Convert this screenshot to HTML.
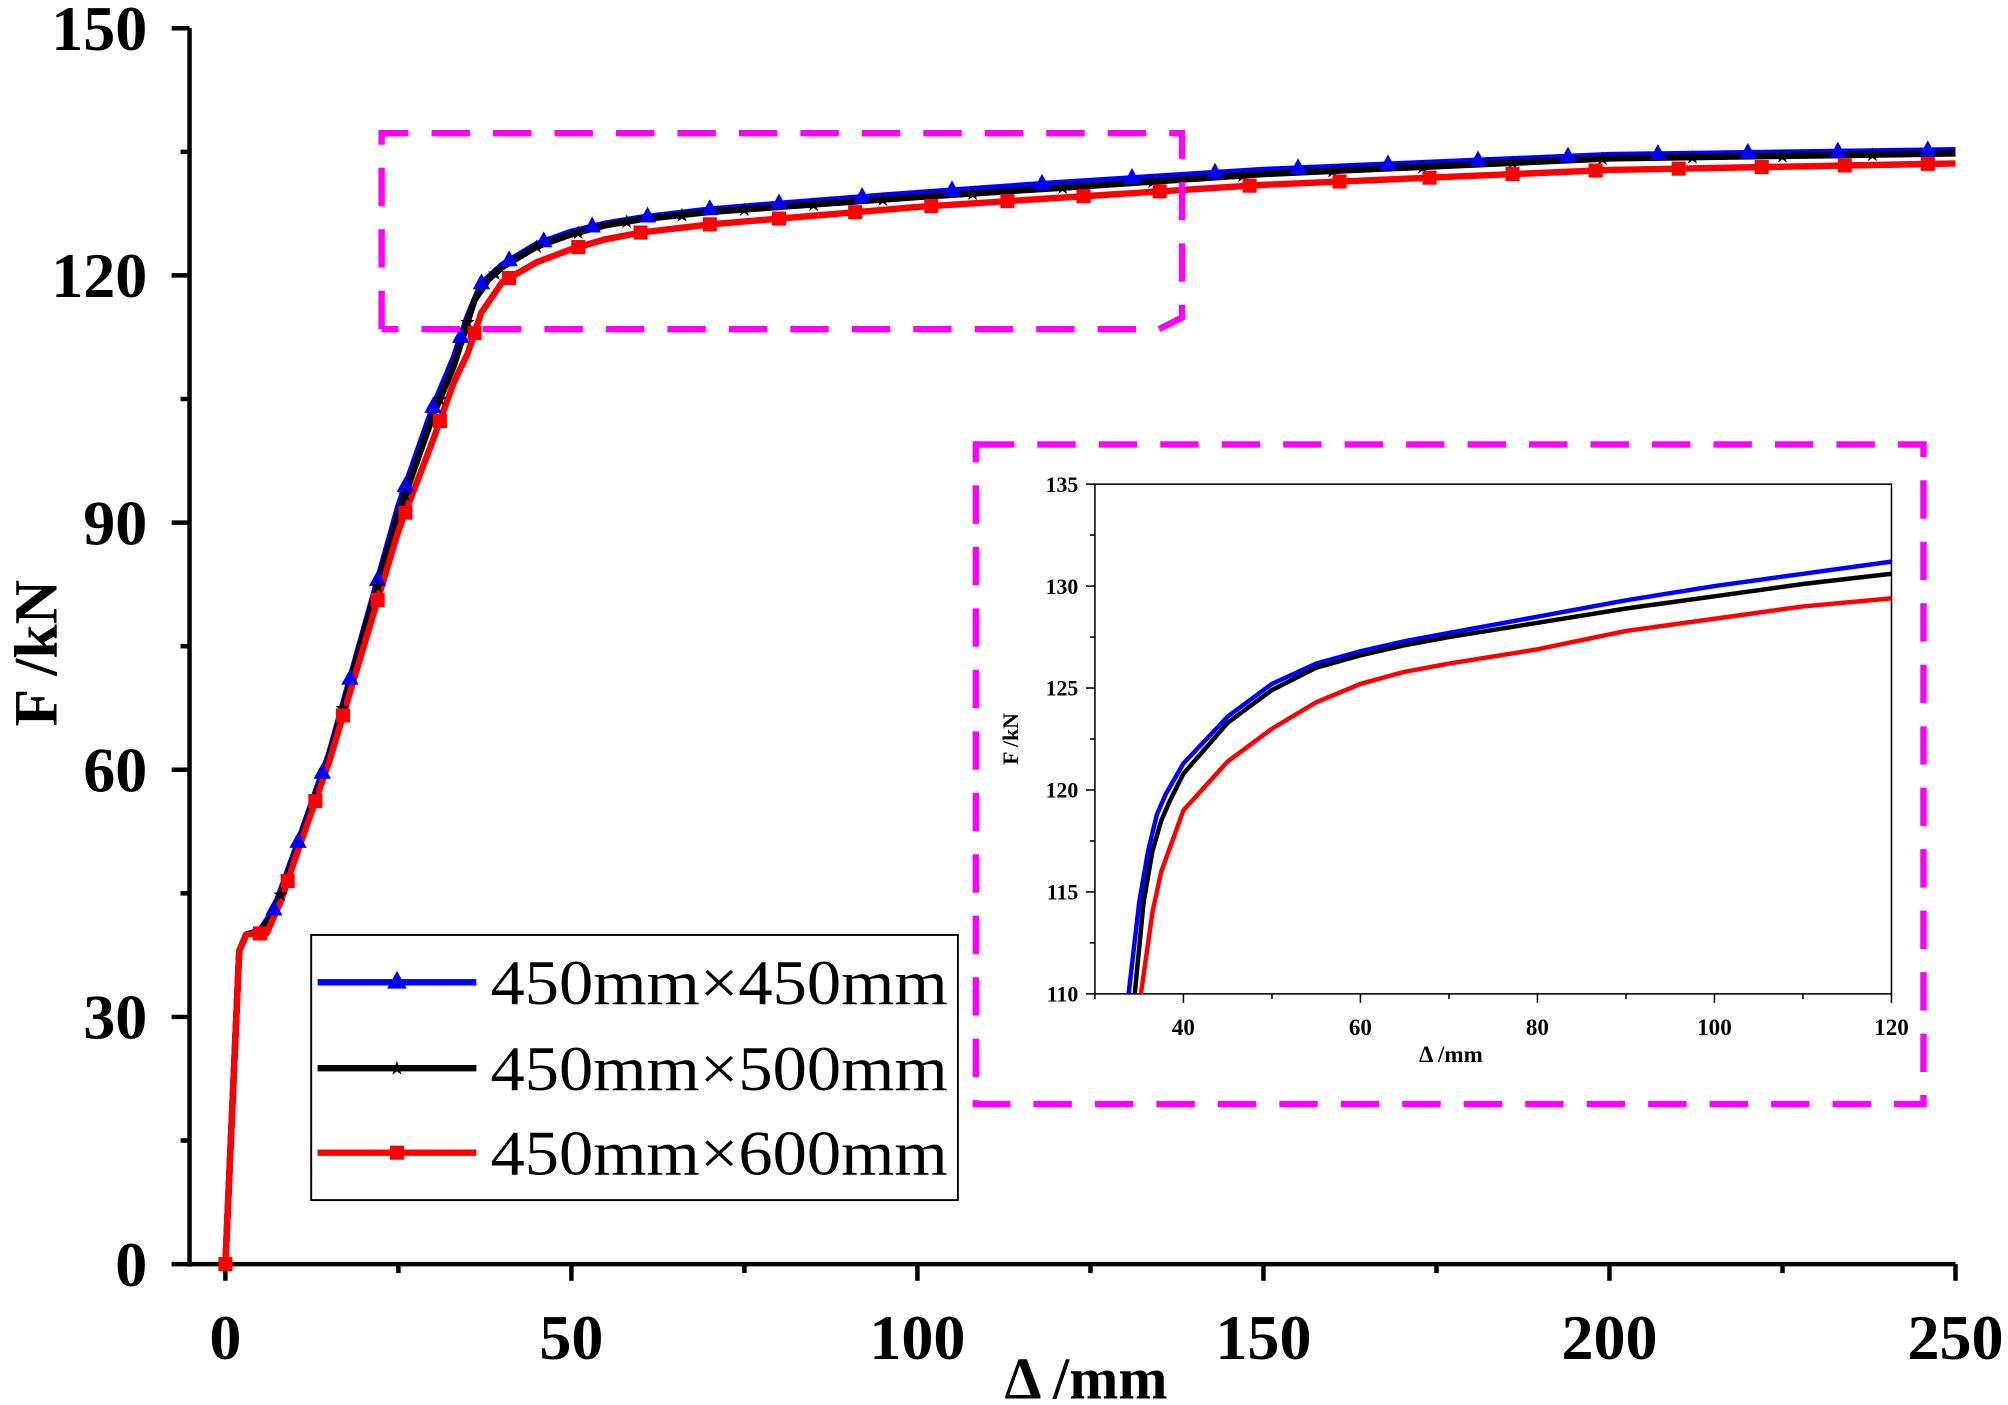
<!DOCTYPE html>
<html><head><meta charset="utf-8">
<style>html,body{margin:0;padding:0;background:#fff;}svg{display:block;}</style>
</head><body>
<svg id="s" width="2008" height="1405" viewBox="0 0 1568 1097" preserveAspectRatio="none" xmlns="http://www.w3.org/2000/svg" font-family="Liberation Serif, serif">
<rect width="1568" height="1097" fill="#fff"/>
<g id="g"></g>
</svg>
<script>
var NS="http://www.w3.org/2000/svg",G=document.getElementById('g');
function el(t,a,txt){var e=document.createElementNS(NS,t);for(var k in a)e.setAttribute(k,a[k]);if(txt!=null)e.textContent=txt;G.appendChild(e);return e;}
var B=[[0,0],[2,38],[3,40],[5,40.5],[7,43],[10,50],[15,62],[20,77],[25,92],[30,104],[33,110],[35,115],[37,119],[40,121.3],[45,123.8],[50,125.3],[55,126.3],[60,127],[70,128],[80,128.7],[100,130],[120,131.2],[150,132.8],[200,134.6],[250,135.2]];
var K=[[0,0],[2,38],[3,40],[5,40.3],[7,42.5],[10,49.5],[15,61.5],[20,76.5],[25,91],[30,103],[33,109],[34.5,113],[36,117],[38,119.5],[40,121],[45,123.5],[50,125],[55,126.1],[60,126.8],[70,127.7],[80,128.3],[100,129.5],[120,130.6],[150,132.3],[200,134.2],[250,134.8]];
var R=[[0,0],[2,38],[3,40],[6,40.2],[8,44],[10,49],[15,61],[20,75],[25,89],[30,100],[33,107],[35,110.5],[37,115.5],[40,119.2],[45,121.6],[50,123.2],[55,124.4],[60,125.2],[70,126.2],[80,126.9],[100,128.3],[120,129.4],[150,131],[200,132.8],[250,133.6]];
function interp(d,x){for(var i=1;i<d.length;i++){if(x<=d[i][0]){var a=d[i-1],b=d[i];return a[1]+(b[1]-a[1])*(x-a[0])/(b[0]-a[0]);}}return d[d.length-1][1];}
function X(v){return 176+v*5.404;} function Y(f){return 987-f*6.433;}
function path(d,fx,fy,x0,x1){var s="";d.forEach(function(p,i){if(p[0]<x0||p[0]>x1)return;s+=(s?"L":"M")+fx(p[0]).toFixed(1)+","+fy(p[1]).toFixed(1);});return s;}
el('line',{x1:148,y1:22,x2:148,y2:989,stroke:'#000','stroke-width':3.5});
el('line',{x1:146,y1:987,x2:1527,y2:987,stroke:'#000','stroke-width':3.5});
for(var f=0;f<=150;f+=15){var y=Y(f),maj=f%30==0;el('line',{x1:maj?134:141,y1:y,x2:148,y2:y,stroke:'#000','stroke-width':3.5});
 if(maj)el('text',{x:115,y:y+17,'text-anchor':'end','font-size':50,'font-weight':'bold'},String(f));}
for(var v=0;v<=250;v+=25){var x=X(v),maj=v%50==0;el('line',{x1:x,y1:987,x2:x,y2:maj?1000:994,stroke:'#000','stroke-width':3.5});
 if(maj)el('text',{x:x,y:1061,'text-anchor':'middle','font-size':50,'font-weight':'bold'},String(v));}
el('text',{x:848,y:1092,'text-anchor':'middle','font-size':46,'font-weight':'bold'},'Δ /mm');
el('text',{x:0,y:0,'text-anchor':'middle','font-size':48,'font-weight':'bold',transform:'translate(44,510) rotate(-90)'},'F /kN');
var ser=[[B,'#0000ff'],[K,'#000'],[R,'#ff0000']];
ser.forEach(function(s){el('path',{d:path(s[0],X,Y,0,250),fill:'none',stroke:s[1],'stroke-width':5,'stroke-linejoin':'round'});});
function marker(t,x,y,c,sz){if(t=='tri')el('path',{d:'M'+x+','+(y-sz)+'L'+(x+sz*0.85)+','+(y+sz*0.55)+'L'+(x-sz*0.85)+','+(y+sz*0.55)+'Z',fill:c});
 else if(t=='sq')el('rect',{x:x-sz/2,y:y-sz/2,width:sz,height:sz,fill:c});
 else el('text',{x:x,y:y+5,'text-anchor':'middle','font-size':15,fill:c},'★');}
var mk=[[B,'#0000ff','tri',[7,10.5,14,18,22,26,30,34,37,41,46,53,61,70,80,92,105,118,131,143,155,168,181,194,207,220,233,246]],
[K,'#000','star',[8,13,17,22,26,31,35,39,45,51,58,66,75,85,95,108,121,134,147,160,173,186,199,212,225,238]],
[R,'#ff0000','sq',[0,5,9,13,17,22,26,31,36,41,51,60,70,80,91,102,113,124,135,148,161,174,186,198,210,222,234,246]]];
mk.forEach(function(m){m[3].forEach(function(v){marker(m[2],X(v),Y(interp(m[0],v)),m[1],m[2]=='sq'?11:8);});});
var dash={fill:'none',stroke:'#ff00ff','stroke-width':5,'stroke-dasharray':'30,18'};
el('path',Object.assign({d:'M298,257L298,104L923,104L923,248L905,257L298,257'},dash));
el('rect',Object.assign({x:762,y:347,width:740,height:515},dash));
el('rect',{x:243,y:730,width:505,height:207,fill:'#fff',stroke:'#000','stroke-width':1.5});
var lg=[['#0000ff','tri','450mm×450mm',767],['#000','star','450mm×500mm',834],['#ff0000','sq','450mm×600mm',900]];
lg.forEach(function(l){el('line',{x1:248,y1:l[3],x2:372,y2:l[3],stroke:l[0],'stroke-width':5});marker(l[1],310,l[3],l[0],l[1]=='sq'?11:9);
 el('text',{x:383,y:l[3]+17,'font-size':50,textLength:357,lengthAdjust:'spacingAndGlyphs'},l[2]);});
function IX(v){return 855+(v-30)*622/90;} function IY(f){return 776-(f-110)*398/25;}
el('rect',{x:855,y:378,width:622,height:398,fill:'#fff',stroke:'#000','stroke-width':1.2});
for(var f=110;f<=135;f+=2.5){var y=IY(f),maj=f%5==0;el('line',{x1:maj?848:851,y1:y,x2:855,y2:y,stroke:'#000','stroke-width':1.2});
 if(maj)el('text',{x:842,y:y+6,'text-anchor':'end','font-size':17,'font-weight':'bold'},String(f));}
for(var v=30;v<=120;v+=10){var x=IX(v),maj=v%20==0;el('line',{x1:x,y1:776,x2:x,y2:maj?783:780,stroke:'#000','stroke-width':1.2});
 if(maj)el('text',{x:x,y:808,'text-anchor':'middle','font-size':18,'font-weight':'bold'},String(v));}
el('text',{x:1133,y:829,'text-anchor':'middle','font-size':18,'font-weight':'bold'},'Δ /mm');
el('text',{x:0,y:0,'text-anchor':'middle','font-size':17,'font-weight':'bold',transform:'translate(795,577) rotate(-90)'},'F /kN');
var IB=[[33.8,110],[35,114.5],[36,117],[37,118.8],[38,119.8],[40,121.3],[45,123.6],[50,125.2],[55,126.2],[60,126.8],[65,127.3],[70,127.7],[80,128.5],[90,129.3],[100,130],[110,130.6],[120,131.2]];
var IK=[[34.5,110],[35.5,114.5],[36.5,117],[37.5,118.5],[38.5,119.5],[40,120.8],[45,123.3],[50,124.9],[55,126],[60,126.6],[65,127.1],[70,127.5],[80,128.2],[90,128.9],[100,129.5],[110,130.1],[120,130.6]];
var IR=[[35.2,110],[36.5,114],[37.5,116],[39,117.8],[40,119],[45,121.4],[50,123],[55,124.3],[60,125.2],[65,125.8],[70,126.2],[80,126.9],[90,127.8],[100,128.4],[110,129],[120,129.4]];
[[IB,'#0000ff'],[IK,'#000'],[IR,'#ff0000']].forEach(function(s){el('path',{d:path(s[0],IX,IY,0,200),fill:'none',stroke:s[1],'stroke-width':3.5});});
</script>
</body></html>
